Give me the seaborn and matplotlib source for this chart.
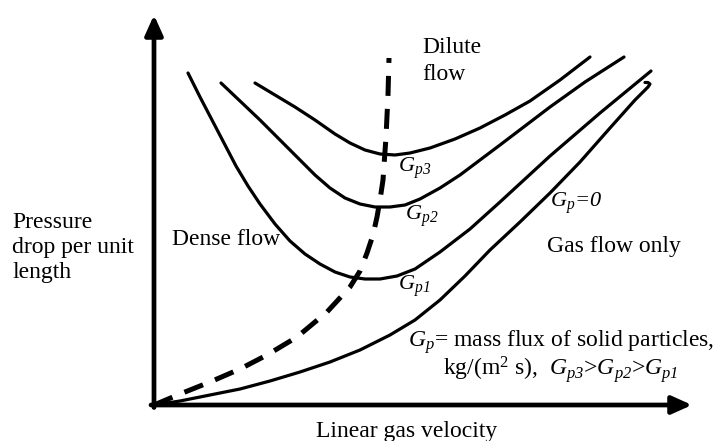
import numpy as np
import pandas as pd
import matplotlib
matplotlib.use("Agg")
import matplotlib.pyplot as plt
import seaborn as sns

# ---------------- data (schematic, arbitrary units) ----------------
# Gp = 0 (gas flow only)
gp0_v = [0, 26, 56, 86, 116, 146, 176, 206, 236, 261, 286, 311, 336, 366, 396, 426, 456, 481, 494, 496, 494, 491]
gp0_dp = [0, 4, 10, 16, 24, 33, 43, 55, 70, 85, 105, 129, 155, 183, 212, 243, 277, 305, 318, 321, 322.5, 322.5]

# Gp1
gp1_v = [34, 46, 58, 70, 82, 94, 106, 121, 136, 151, 166, 181, 196, 211, 226, 243, 261, 286, 316, 346, 396, 446, 497]
gp1_dp = [332, 308, 285, 262, 239, 219, 201, 181, 164, 151, 141, 133, 128, 126, 126, 129, 136, 153, 176, 203, 249, 292, 334]

# Gp2
gp2_v = [67, 86, 106, 126, 146, 161, 176, 191, 206, 221, 236, 251, 266, 286, 306, 326, 346, 371, 396, 431, 470]
gp2_dp = [322, 304, 285, 265, 245, 230, 217, 207, 201, 198, 198, 200, 206, 217, 230, 245, 260, 279, 298, 323, 348]

# Gp3
gp3_v = [101, 121, 141, 161, 181, 196, 211, 226, 241, 256, 276, 301, 326, 351, 376, 406, 436]
gp3_dp = [322, 310, 298, 285, 271, 262, 255, 251, 250, 252, 257, 266, 277, 290, 304, 325, 348]

# Boundary dense / dilute flow (dashed)
bnd_v = [0, 26, 56, 86, 113, 143, 173, 196, 206, 213, 219, 223, 226, 229, 232, 234, 235]
bnd_dp = [0, 11, 23, 36, 50, 68, 93, 118, 134, 152, 170, 188, 205, 225, 268, 310, 347]

V_MAX, DP_MAX = 538, 390

ylabel_lines = ["Pressure", "drop per unit", "length"]
xlabel = "Linear gas velocity"

# ---------------- style ----------------
sns.set_theme(style="white")
plt.rcParams["font.family"] = ["Liberation Serif", "DejaVu Serif"]
plt.rcParams["mathtext.fontset"] = "custom"
plt.rcParams["mathtext.rm"] = "Liberation Serif"
plt.rcParams["mathtext.it"] = "Liberation Serif:italic"
plt.rcParams["mathtext.sf"] = "Liberation Serif:italic"
plt.rcParams["mathtext.bf"] = "Liberation Serif:bold"

W, H = 723, 441
fig = plt.figure(figsize=(W / 100, H / 100), dpi=100)
fig.patch.set_facecolor("white")
ax = fig.add_axes([154 / W, 36 / H, 538 / W, 390 / H])

# curves
curves = {"Gp0": (gp0_v, gp0_dp), "Gp1": (gp1_v, gp1_dp),
          "Gp2": (gp2_v, gp2_dp), "Gp3": (gp3_v, gp3_dp)}
for name, (v, dp) in curves.items():
    df = pd.DataFrame({"v": v, "dp": dp})
    sns.lineplot(data=df, x="v", y="dp", sort=False, estimator=None, ax=ax,
                 color="black", lw=2.3, solid_capstyle="round", solid_joinstyle="round")

dfb = pd.DataFrame({"v": bnd_v, "dp": bnd_dp})
sns.lineplot(data=dfb, x="v", y="dp", sort=False, estimator=None, ax=ax,
             color="black", lw=3.6, linestyle=(0, (4.0, 2.6)), dash_capstyle="butt")

ax.set_xlim(0, V_MAX)
ax.set_ylim(0, DP_MAX)
ax.axis("off")

# axes with arrows
arrow_style = "-|>,head_length=1.0,head_width=0.45"
ax.annotate("", xy=(V_MAX, 0), xytext=(-3, 0), xycoords="data",
            arrowprops=dict(arrowstyle=arrow_style, lw=3.4, color="black",
                            shrinkA=0, shrinkB=0, mutation_scale=12),
            annotation_clip=False)
ax.annotate("", xy=(0, DP_MAX), xytext=(0, -2.5), xycoords="data",
            arrowprops=dict(arrowstyle=arrow_style, lw=3.4, color="black",
                            shrinkA=0, shrinkB=0, mutation_scale=12),
            annotation_clip=False)


def ptext(px, py, s, size=17, **kw):
    fig.text(px / W, 1 - py / H, s, fontsize=size, va="baseline", color="black", **kw)


# texts
for i, line in enumerate(ylabel_lines):
    ptext(12, 228 + 25 * i, line)
ptext(407, 437, xlabel, ha="center")
ptext(172, 245, "Dense flow")
ptext(422, 53, "Dilute")
ptext(422, 80, "flow")
ptext(547, 252, "Gas flow only")

ptext(398, 172, r"$\mathsf{G}_{\mathsf{p3}}$", size=16)
ptext(405, 220, r"$\mathsf{G}_{\mathsf{p2}}$", size=16)
ptext(398, 290, r"$\mathsf{G}_{\mathsf{p1}}$", size=16)
ptext(550, 207, r"$\mathsf{G}_{\mathsf{p}}$=0", size=16, style="italic")

ptext(561, 375,
      r"$\mathsf{G}_{\mathsf{p}}$= mass flux of solid particles," "\n"
      r"kg/(m$^2$ s),  $\mathsf{G}_{\mathsf{p3}}$>$\mathsf{G}_{\mathsf{p2}}$>$\mathsf{G}_{\mathsf{p1}}$",
      ha="center", multialignment="center", linespacing=0.9)

fig.savefig("out.png", dpi=100, facecolor="white")
